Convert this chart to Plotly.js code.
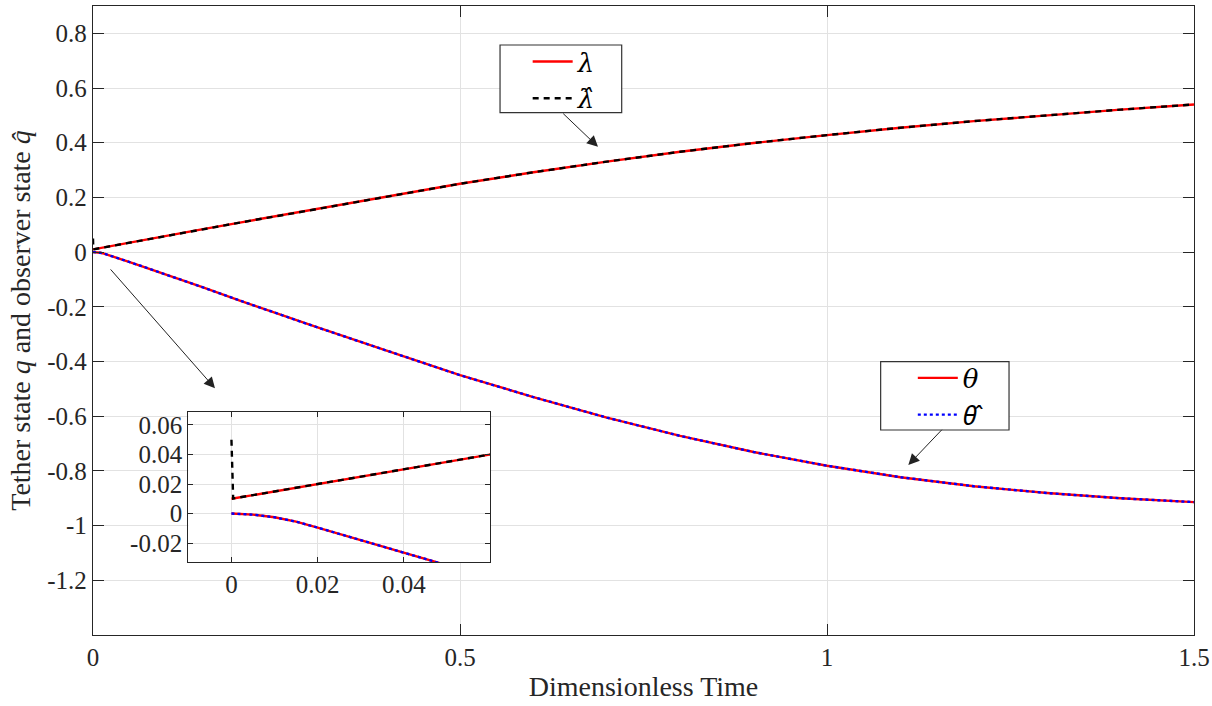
<!DOCTYPE html>
<html>
<head>
<meta charset="utf-8">
<script src="https://cdn.plot.ly/plotly-3.0.1.min.js"></script>
<style>
  html, body { margin: 0; padding: 0; background: #ffffff; }
  #chart { width: 1212px; height: 706px; }
</style>
</head>
<body>
<div id="chart"></div>
<script>
// ---- data ----
const time = [0, 0.005, 0.01, 0.015, 0.02, 0.03, 0.04, 0.05, 0.06, 0.08, 0.1, 0.15, 0.2, 0.3, 0.4, 0.5, 0.6, 0.7, 0.8, 0.9, 1.0, 1.1, 1.2, 1.3, 1.4, 1.5];
const lambda = [0.010, 0.0125, 0.015, 0.0178, 0.0205, 0.0255, 0.0305, 0.035, 0.040, 0.050, 0.060, 0.084, 0.108, 0.155, 0.203, 0.250, 0.292, 0.331, 0.367, 0.399, 0.428, 0.455, 0.479, 0.501, 0.521, 0.540];
const theta = [0, -0.0007, -0.0025, -0.0055, -0.0095, -0.0185, -0.0275, -0.0365, -0.0455, -0.0637, -0.082, -0.129, -0.177, -0.270, -0.360, -0.450, -0.530, -0.605, -0.672, -0.731, -0.781, -0.823, -0.856, -0.881, -0.900, -0.914];
// observer estimates: lambda-hat starts at 0.05 and jumps onto lambda almost at once
const hatTime = [0, 0.0004, 0.005, 0.01, 0.015, 0.02, 0.03, 0.04, 0.05, 0.06, 0.08, 0.1, 0.15, 0.2, 0.3, 0.4, 0.5, 0.6, 0.7, 0.8, 0.9, 1.0, 1.1, 1.2, 1.3, 1.4, 1.5];
const lambdaHat = [0.050, 0.0102, 0.0125, 0.015, 0.0178, 0.0205, 0.0255, 0.0305, 0.035, 0.040, 0.050, 0.060, 0.084, 0.108, 0.155, 0.203, 0.250, 0.292, 0.331, 0.367, 0.399, 0.428, 0.455, 0.479, 0.501, 0.521, 0.540];
const thetaHat = [0, -0.0007, -0.0025, -0.0055, -0.0095, -0.0185, -0.0275, -0.0365, -0.0455, -0.0637, -0.082, -0.129, -0.177, -0.270, -0.360, -0.450, -0.530, -0.605, -0.672, -0.731, -0.781, -0.823, -0.856, -0.881, -0.900, -0.914];

const xTickVals = [0, 0.5, 1, 1.5];
const xTickText = ['0', '0.5', '1', '1.5'];
const yTickVals = [-1.2, -1, -0.8, -0.6, -0.4, -0.2, 0, 0.2, 0.4, 0.6, 0.8];
const yTickText = ['-1.2', '-1', '-0.8', '-0.6', '-0.4', '-0.2', '0', '0.2', '0.4', '0.6', '0.8'];
const insetXTickVals = [0, 0.02, 0.04];
const insetXTickText = ['0', '0.02', '0.04'];
const insetYTickVals = [-0.02, 0, 0.02, 0.04, 0.06];
const insetYTickText = ['-0.02', '0', '0.02', '0.04', '0.06'];

const names = {
  lambda: '<i>λ</i>',
  lambdaHat: '<i>λ̂</i>',
  theta: '<i>θ</i>',
  thetaHat: '<i><span style="font-family:Noto Sans">θ̂</span></i>'
};

// ---- styles ----
const FONT = '"Liberation Serif", "Times New Roman", serif';
const LFONT = '"DejaVu Serif", "Liberation Serif", serif';
const RED = '#ff0000', BLACK = '#000000', BLUE = '#0000ff';
const AXC = '#262626', GRID = '#e2e2e2';

function series(xa, ya, showleg) {
  return [
    { x: time, y: lambda, type: 'scatter', mode: 'lines', name: names.lambda, legend: 'legend',
      line: { color: RED, width: 2.4 }, xaxis: xa, yaxis: ya, showlegend: showleg, hoverinfo: 'skip' },
    { x: hatTime, y: lambdaHat, type: 'scatter', mode: 'lines', name: names.lambdaHat, legend: 'legend',
      line: { color: BLACK, width: 2.4, dash: '6px,5px' }, xaxis: xa, yaxis: ya, showlegend: showleg, hoverinfo: 'skip' },
    { x: time, y: theta, type: 'scatter', mode: 'lines', name: names.theta, legend: 'legend2',
      line: { color: RED, width: 2.4 }, xaxis: xa, yaxis: ya, showlegend: showleg, hoverinfo: 'skip' },
    { x: time, y: thetaHat, type: 'scatter', mode: 'lines', name: names.thetaHat, legend: 'legend2',
      line: { color: BLUE, width: 2.4, dash: 'dot' }, xaxis: xa, yaxis: ya, showlegend: showleg, hoverinfo: 'skip' }
  ];
}

const traces = series('x', 'y', true).concat(series('x2', 'y2', false));

const axisCommon = {
  ticks: 'inside', ticklen: 11, tickwidth: 1, tickcolor: AXC,
  showline: true, linecolor: AXC, linewidth: 1.2, mirror: 'ticks',
  showgrid: true, gridcolor: GRID, gridwidth: 1, zeroline: false,
  tickfont: { family: FONT, size: 25, color: '#262626' }
};

const layout = {
  width: 1212, height: 706,
  margin: { l: 93, r: 18, t: 6, b: 71 },
  paper_bgcolor: '#ffffff', plot_bgcolor: '#ffffff',
  font: { family: FONT, color: '#262626' },
  xaxis: Object.assign({}, axisCommon, {
    range: [0, 1.5], tickvals: xTickVals, ticktext: xTickText, domain: [0, 1], anchor: 'y',
    title: { text: 'Dimensionless Time', font: { family: FONT, size: 28, color: '#262626' }, standoff: 6 }
  }),
  yaxis: Object.assign({}, axisCommon, {
    range: [-1.4, 0.9], tickvals: yTickVals, ticktext: yTickText, domain: [0, 1], anchor: 'x',
    title: { text: 'Tether state <i>q</i> and observer state <i>q̂</i>', font: { family: FONT, size: 28, color: '#262626' }, standoff: 8 }
  }),
  xaxis2: Object.assign({}, axisCommon, {
    range: [-0.01, 0.06], tickvals: insetXTickVals, ticktext: insetXTickText,
    domain: [0.0866, 0.3606], anchor: 'y2', ticklen: 5
  }),
  yaxis2: Object.assign({}, axisCommon, {
    range: [-0.033, 0.069], tickvals: insetYTickVals, ticktext: insetYTickText,
    domain: [0.1156, 0.355], anchor: 'x2', ticklen: 5
  }),
  showlegend: true,
  legend: {
    x: 0.3948, y: 0.949, xanchor: 'left', yanchor: 'top',
    bgcolor: 'rgba(0,0,0,0)', borderwidth: 0,
    font: { family: LFONT, size: 26, color: '#000000' }, itemwidth: 40, tracegroupgap: 0
  },
  legend2: {
    x: 0.7446, y: 0.446, xanchor: 'left', yanchor: 'top',
    bgcolor: 'rgba(0,0,0,0)', borderwidth: 0,
    font: { family: LFONT, size: 26, color: '#000000' }, itemwidth: 40, tracegroupgap: 0
  },
  shapes: [
    { type: 'rect', xref: 'paper', yref: 'paper', x0: 0.3697, x1: 0.4802, y0: 0.8304, y1: 0.938,
      line: { color: '#333333', width: 1.2 }, fillcolor: '#ffffff', layer: 'above' },
    { type: 'rect', xref: 'paper', yref: 'paper', x0: 0.7154, x1: 0.832, y0: 0.3259, y1: 0.4345,
      line: { color: '#333333', width: 1.2 }, fillcolor: '#ffffff', layer: 'above' }
  ],
  annotations: [
    { xref: 'x', yref: 'y', axref: 'x', ayref: 'y', x: 0.688, y: 0.385, ax: 0.6386, ay: 0.5117,
      text: '', showarrow: true, arrowhead: 2, arrowsize: 2.2, arrowwidth: 1, arrowcolor: '#222222' },
    { xref: 'x', yref: 'y', axref: 'x', ayref: 'y', x: 1.1108, y: -0.778, ax: 1.1584, ay: -0.644,
      text: '', showarrow: true, arrowhead: 2, arrowsize: 2.2, arrowwidth: 1, arrowcolor: '#222222' },
    { xref: 'x', yref: 'y', axref: 'x', ayref: 'y', x: 0.1662, y: -0.498, ax: 0.0222, ay: -0.0577,
      text: '', showarrow: true, arrowhead: 2, arrowsize: 2.2, arrowwidth: 1, arrowcolor: '#222222' }
  ]
};

Plotly.newPlot('chart', traces, layout, { displayModeBar: false, staticPlot: true });
</script>
</body>
</html>
